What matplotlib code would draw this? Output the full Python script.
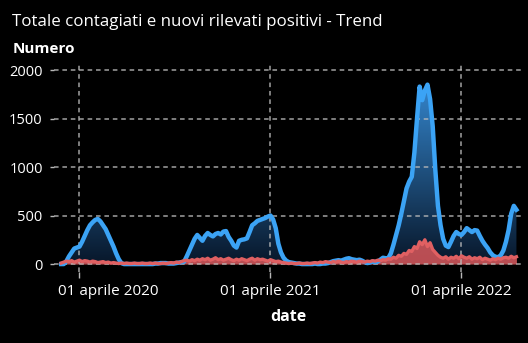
import numpy as np
import pandas as pd
import matplotlib.pyplot as plt
import matplotlib.dates as mdates
from matplotlib.colors import LinearSegmentedColormap
from matplotlib.patches import PathPatch
from matplotlib.transforms import ScaledTranslation

plt.rcParams["font.family"] = ["Open Sans", "DejaVu Sans"]

# Dati: un valore ogni 5 giorni a partire dal 27 febbraio 2020
dates = pd.date_range("2020-02-27", periods=175, freq="5D")

totale_contagiati = [
    0, 0, 30, 80, 120, 160, 170, 180, 230, 290,
    350, 400, 430, 455, 465, 440, 400, 360, 300, 240,
    180, 110, 50, 10, 0, 0, 0, 0, 0, 0,
    0, 0, 0, 0, 0, 0, 5, 5, 10, 10,
    10, 5, 5, 5, 10, 15, 20, 25, 80, 140,
    200, 260, 300, 270, 240, 290, 320, 300, 285, 310,
    320, 305, 335, 340, 280, 240, 190, 170, 240, 250,
    255, 265, 330, 400, 420, 445, 455, 465, 475, 490,
    500, 460, 370, 210, 120, 65, 35, 20, 15, 10,
    5, 5, 0, 0, 0, 0, 0, 5, 0, 0,
    5, 5, 10, 20, 30, 35, 40, 35, 45, 55,
    60, 50, 45, 40, 45, 35, 20, 10, 15, 25,
    20, 25, 45, 65, 60, 60, 110, 200, 300, 400,
    520, 650, 780, 850, 900, 1150, 1500, 1830, 1690, 1790,
    1850, 1700, 1420, 970, 600, 400, 260, 190, 175, 230,
    290, 330, 310, 300, 330, 370, 350, 330, 350, 345,
    290, 240, 200, 165, 120, 90, 75, 70, 90, 140,
    230, 350, 520, 600, 560,
]

nuovi_positivi = [
    10, 20, 30, 25, 35, 20, 30, 40, 25, 35,
    30, 20, 30, 25, 15, 20, 25, 15, 20, 10,
    15, 10, 5, 10, 5, 10, 5, 5, 10, 5,
    5, 10, 5, 5, 10, 5, 10, 5, 5, 10,
    5, 10, 15, 10, 20, 15, 25, 35, 40, 30,
    45, 35, 50, 40, 55, 45, 60, 40, 50, 65,
    45, 55, 40, 50, 60, 45, 35, 50, 40, 55,
    45, 35, 50, 60, 40, 55, 45, 50, 40, 30,
    45, 35, 25, 30, 20, 15, 10, 5, 10, 5,
    5, 10, 5, 5, 10, 5, 10, 15, 10, 20,
    15, 25, 20, 15, 25, 20, 30, 20, 15, 25,
    20, 30, 25, 20, 30, 25, 20, 30, 25, 35,
    30, 40, 35, 45, 40, 55, 50, 70, 60, 90,
    80, 110, 100, 140, 130, 180, 160, 230, 200, 250,
    180, 220, 150, 120, 90, 70, 60, 75, 50, 70,
    60, 80, 55, 85, 70, 60, 75, 50, 65, 55,
    70, 45, 60, 50, 40, 55, 45, 60, 50, 65,
    70, 60, 80, 65, 75,
]

tick_dates = pd.to_datetime(["2020-04-01", "2021-04-01", "2022-04-01"])
tick_labels = ["01 aprile 2020", "01 aprile 2021", "01 aprile 2022"]
y_ticks = [0, 500, 1000, 1500, 2000]

fig = plt.figure(figsize=(5.28, 3.43), dpi=100, facecolor="black")
ax = fig.add_axes([0.102, 0.207, 0.887, 0.609], facecolor="black")

xlim = (pd.Timestamp("2020-02-13"), pd.Timestamp("2022-07-27"))
ylim = (-82, 2072)

# area blu con sfumatura verticale
blue_fill = ax.fill_between(dates, totale_contagiati, 0, color="none", lw=0)
cmap = LinearSegmentedColormap.from_list("sfumatura", ["#08172a", "#3485cc"])
grad = np.linspace(0, 1, 256).reshape(-1, 1)
x0, x1 = mdates.date2num(xlim[0]), mdates.date2num(xlim[1])
img = ax.imshow(grad, cmap=cmap, origin="lower", aspect="auto",
                extent=(x0, x1, 0, max(totale_contagiati)), zorder=1)
clip = PathPatch(blue_fill.get_paths()[0], transform=ax.transData,
                 facecolor="none", edgecolor="none")
ax.add_patch(clip)
img.set_clip_path(clip)
ax.set_xlim(xlim)
ax.set_ylim(ylim)

# area rossa
ax.fill_between(dates, nuovi_positivi, 0, color="#d9575a", alpha=0.85,
                lw=0, zorder=2)

ax.grid(True, color="#bdbdbd", linestyle=(0, (3, 2.5)), linewidth=1.1,
        alpha=0.85, zorder=2.5)
ax.set_axisbelow(False)

ax.plot(dates, totale_contagiati, color="#3ba3f5", lw=3.2, zorder=3,
        solid_joinstyle="round")
ax.plot(dates, nuovi_positivi, color="#e06062", lw=2.4, zorder=4,
        solid_joinstyle="round")

ax.set_xticks(tick_dates)
ax.set_xticklabels(tick_labels)
ax.set_yticks(y_ticks)
ax.set_yticklabels([str(v) for v in y_ticks])
ax.tick_params(colors="#b8b8b8", labelcolor="white", length=4, width=1)
ax.tick_params(axis="y", length=3, pad=5, labelsize=10.5)
ax.tick_params(axis="x", pad=5, labelsize=11)
for s in ax.spines.values():
    s.set_visible(False)

# la prima etichetta è spostata a destra come nell'originale
first = ax.get_xticklabels()[0]
first.set_transform(first.get_transform() +
                    ScaledTranslation(29 / 100, 0, fig.dpi_scale_trans))

fig.text(0.023, 0.958, "Totale contagiati e nuovi rilevati positivi - Trend",
         color="white", fontsize=12.2, va="top", ha="left")
fig.text(0.023, 0.878, "Numero", color="white", fontsize=11,
         fontweight="bold", va="top", ha="left")
ax.set_xlabel("date", color="white", fontsize=11.5, fontweight="bold",
              labelpad=7)

fig.savefig("out.png", dpi=100, facecolor="black")
